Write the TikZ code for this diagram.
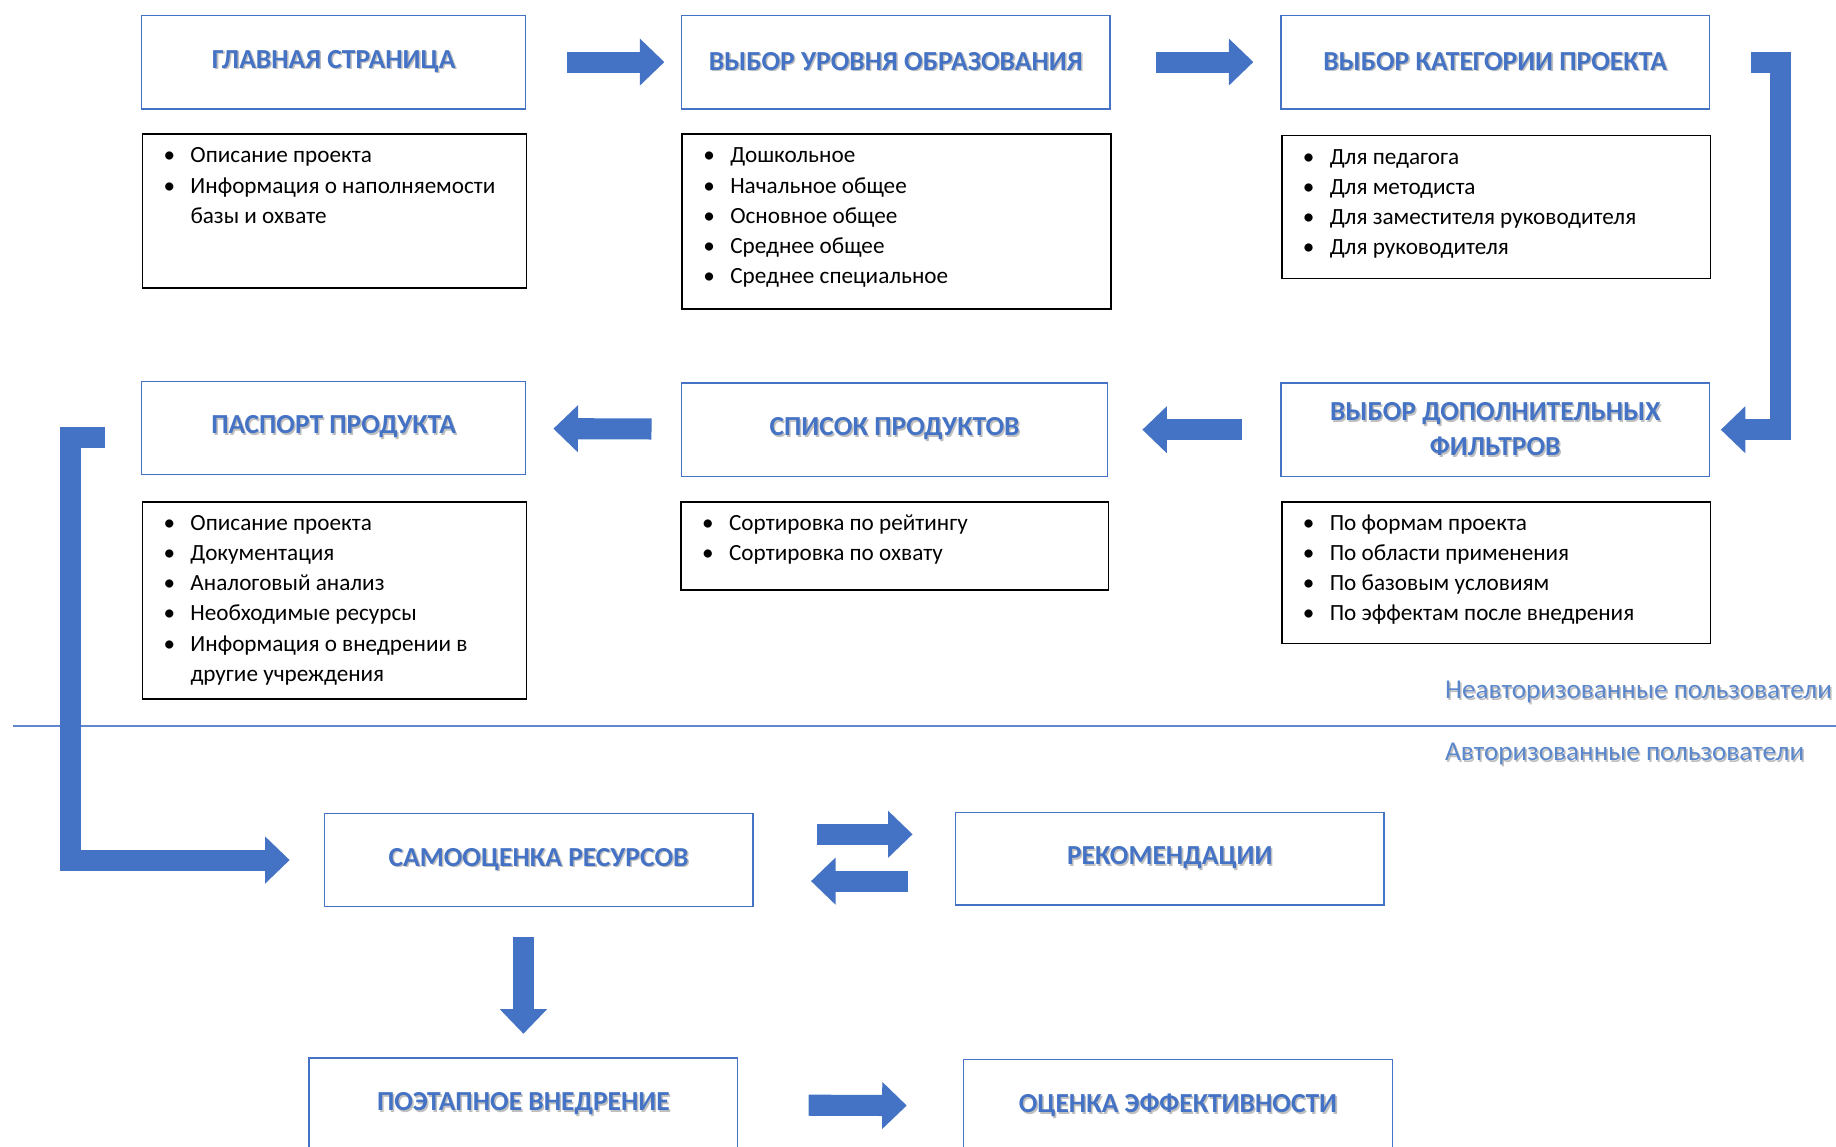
\documentclass[tikz,border=0pt]{standalone}
\usepackage{fontspec}
\setmainfont{Carlito}
\usetikzlibrary{arrows.meta}

\definecolor{boxblue}{HTML}{4472C4}
\definecolor{arrowblue}{HTML}{4472C4}
\definecolor{labelblue}{HTML}{5A86CC}

% text with a soft shadow, like the headings of the scheme
\newcommand\shd[1]{\makebox[0pt][l]{\hspace{1.3pt}\raisebox{-1.6pt}{\textcolor{black!25}{#1}}}#1}
% one bullet line of a list
\newcommand\itm[1]{\strut\makebox[23pt][l]{•}#1}
% list body: width, height, lines
\newcommand\lst[3]{\parbox[c][#2][t]{#1}{\fontsize{19.8}{25.7}\selectfont
  \vspace*{6.5pt}\leftskip=18pt\parindent=0pt #3}}

\tikzset{
  titlebox/.style={draw=boxblue, line width=1.2pt, inner sep=0pt, align=center,
    text=boxblue, font=\fontsize{23.5}{30}\selectfont\bfseries,
    minimum width=366pt, minimum height=80pt},
  listbox/.style={draw=black, line width=1.4pt, inner sep=0pt, anchor=north west},
  fatarrow/.style={draw=arrowblue, line width=18pt, line join=miter,
    -{Triangle[width=39pt,length=21pt]}},
  userlabel/.style={anchor=west, inner sep=0pt, text=labelblue,
    font=\fontsize{23.2}{26}\selectfont},
}

\begin{document}
\begin{tikzpicture}[x=1pt,y=-1pt]

    \useasboundingbox (0,0) rectangle (1568,979);

    % upper part
    \node[titlebox, minimum width=328pt] (home) at (285,53) {\shd{ГЛАВНАЯ СТРАНИЦА}};
    \node[titlebox] (level) at (765,53) {\shd{ВЫБОР УРОВНЯ ОБРАЗОВАНИЯ}};
    \node[titlebox] (category) at (1277,53) {\shd{ВЫБОР КАТЕГОРИИ ПРОЕКТА}};

    \node[listbox] (homelist) at (121,114) {\lst{328pt}{131pt}{%
        \itm{Описание проекта}\\
        \itm{Информация о наполняемости}\\
        \strut\hspace*{23pt}базы и охвате}};
    \node[listbox] (levellist) at (582,114) {\lst{366pt}{149pt}{%
        \itm{Дошкольное}\\
        \itm{Начальное общее}\\
        \itm{Основное общее}\\
        \itm{Среднее общее}\\
        \itm{Среднее специальное}}};
    \node[listbox] (categorylist) at (1094,115) {\lst{366pt}{122pt}{%
        \itm{Для педагога}\\
        \itm{Для методиста}\\
        \itm{Для заместителя руководителя}\\
        \itm{Для руководителя}}};

    \node[titlebox, minimum width=328pt, minimum height=79pt] (passport) at (285,365.5) {\shd{ПАСПОРТ ПРОДУКТА}};
    \node[titlebox, minimum width=364pt] (products) at (764,367) {\shd{СПИСОК ПРОДУКТОВ}};
    \node[titlebox] (filters) at (1277,367) {\shd{ВЫБОР ДОПОЛНИТЕЛЬНЫХ}\\\shd{ФИЛЬТРОВ}};

    \node[listbox] (passportlist) at (121,428) {\lst{328pt}{168pt}{%
        \itm{Описание проекта}\\
        \itm{Документация}\\
        \itm{Аналоговый анализ}\\
        \itm{Необходимые ресурсы}\\
        \itm{Информация о внедрении в}\\
        \strut\hspace*{23pt}другие учреждения}};
    \node[listbox] (productslist) at (581,428) {\lst{365pt}{75pt}{%
        \itm{Сортировка по рейтингу}\\
        \itm{Сортировка по охвату}}};
    \node[listbox] (filterslist) at (1094,428) {\lst{366pt}{121pt}{%
        \itm{По формам проекта}\\
        \itm{По области применения}\\
        \itm{По базовым условиям}\\
        \itm{По эффектам после внедрения}}};

    % border between the user groups
    \draw[boxblue!85, line width=1.6pt] (11,620) -- (1568,620);
    \node[userlabel] (guests) at (1234,592) {\shd{Неавторизованные пользователи}};
    \node[userlabel] (members) at (1234,645) {\shd{Авторизованные пользователи}};

    % lower part
    \node[titlebox, minimum height=79pt] (selfcheck) at (460,734.5) {\shd{САМООЦЕНКА РЕСУРСОВ}};
    \node[titlebox, minimum height=79pt] (advice) at (999,733.5) {\shd{РЕКОМЕНДАЦИИ}};
    \node[titlebox, minimum height=79pt] (rollout) at (447,943) {\shd{ПОЭТАПНОЕ ВНЕДРЕНИЕ}};
    \node[titlebox] (effect) at (1006,945) {\shd{ОЦЕНКА ЭФФЕКТИВНОСТИ}};

    % arrows
    \draw[fatarrow, shorten <=35pt, shorten >=14pt] (home) -- (level);
    \draw[fatarrow, shorten <=39pt, shorten >=23pt] (level) -- (category);
    \draw[fatarrow, shorten <=35pt, shorten >=9pt] (category.east) -- ++(60,0) |- (filters.east);
    \draw[fatarrow, shorten <=33pt, shorten >=29pt] (filters) -- (products);
    \draw[fatarrow, shorten <=25pt, shorten >=23pt] (products) -- (passport);
    \draw[fatarrow, shorten <=31pt, shorten >=29pt] ([yshift=-8pt]passport.west) -- ++(-60,0) |- (selfcheck.west);
    \draw[fatarrow, shorten <=54pt, shorten >=36pt] ([yshift=22pt]selfcheck.east) -- ([yshift=22pt]selfcheck.east -| advice.west);
    \draw[fatarrow, shorten <=40pt, shorten >=49pt] ([yshift=-19pt]advice.west) -- ([yshift=-19pt]advice.west -| selfcheck.east);
    \draw[fatarrow, shorten <=26pt, shorten >=20pt] (rollout.north |- selfcheck.south) -- (rollout.north);
    \draw[fatarrow, shorten <=60pt, shorten >=48pt] (rollout) -- (effect);

\end{tikzpicture}
\end{document}
